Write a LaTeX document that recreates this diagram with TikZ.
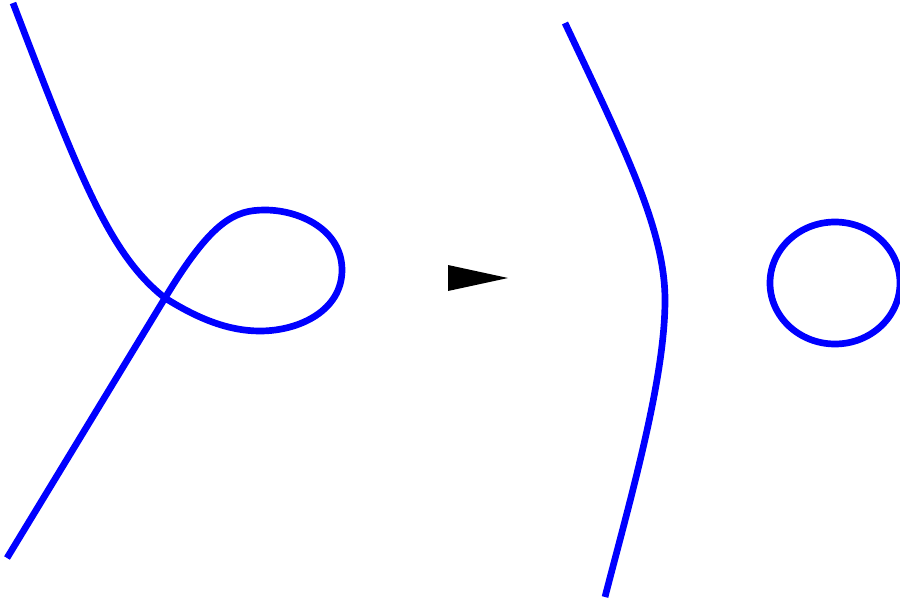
\documentclass[tikz,border=0pt]{standalone}
\usepackage{tikz}
\usetikzlibrary{calc}

\begin{document}
\begin{tikzpicture}[x=0.02cm, y=-0.02cm,
    strand/.style={blue, line width=3.8pt},
    movearrow/.style={fill=black, draw=none}]
      \useasboundingbox (0,0) rectangle (900,602);
      % before the move: strand with a kink
      \coordinate (top) at (13,3);
      \coordinate (cross) at (165,298);
      \coordinate (bot) at (7,558);
      \draw[strand] (top) .. controls (80,178) and (110,255) .. (cross)
        .. controls (200,320) and (230,331) .. (260,331)
        .. controls (300,331) and (342,310) .. (342,270)
        .. controls (342,230) and (300,210) .. (265,210)
        .. controls (235,210) and (212,220) .. (cross) -- (bot);
      % the move
      \fill[movearrow] (448,265) -- (508,278) -- (448,291) -- cycle;
      % after the move: strand and a free circle
      \coordinate (rtop) at (565,23);
      \coordinate (rmid) at (665,300);
      \coordinate (rbot) at (605,597);
      \draw[strand] (rtop) .. controls (625,150) and (665,230) .. (rmid)
        .. controls (665,380) and (630,500) .. (rbot);
      \draw[strand] (835,283) ellipse [x radius=65, y radius=61];
    \end{tikzpicture}
\end{document}
